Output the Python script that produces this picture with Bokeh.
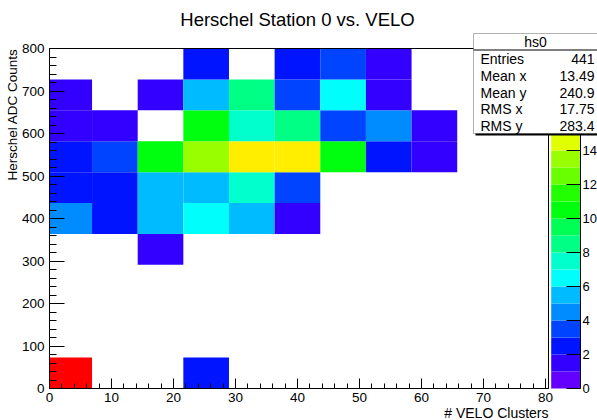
import colorsys
import math

from bokeh.plotting import figure
from bokeh.models import (Range1d, ColumnDataSource, LinearColorMapper, LinearAxis,
                          SingleIntervalTicker, FixedTicker, Label, BoxAnnotation)
from bokeh.embed import file_html
from bokeh.resources import INLINE

TITLE = "Herschel Station 0 vs. VELO"
X_TITLE = "# VELO Clusters"
Y_TITLE = "Herschel ADC Counts"
HIST_NAME = "hs0"

# histogram binning
NX, X_LO, X_HI = 11, -0.5, 80.5
NY, Y_LO, Y_HI = 11, 0.0, 800.0
Z_MAX = 20
N_CONTOURS = 20

# bin contents: one row per y bin (lowest first), one entry per x bin
counts = [
    [252, 0, 0, 2, 0, 0, 0, 0, 0, 0, 0],
    [0, 0, 0, 0, 0, 0, 0, 0, 0, 0, 0],
    [0, 0, 0, 0, 0, 0, 0, 0, 0, 0, 0],
    [0, 0, 0, 0, 0, 0, 0, 0, 0, 0, 0],
    [0, 0, 1, 0, 0, 0, 0, 0, 0, 0, 0],
    [4, 2, 5, 6, 5, 1, 0, 0, 0, 0, 0],
    [2, 2, 5, 5, 7, 3, 0, 0, 0, 0, 0],
    [2, 3, 10, 13, 15, 15, 10, 2, 1, 0, 0],
    [1, 1, 0, 10, 7, 8, 3, 4, 1, 0, 0],
    [1, 0, 1, 5, 8, 3, 6, 1, 0, 0, 0],
    [0, 0, 0, 2, 0, 2, 3, 1, 0, 0, 0],
]

# palette-axis labels left uncovered by the statistics box
z_ticks = [0, 2, 4, 6, 8, 10, 12, 14]

stat_names = ["Entries", "Mean x", "Mean y", "RMS x", "RMS y"]
stat_values = [str(sum(sum(r) for r in counts)), "13.49", "240.9", "17.75", "283.4"]

FONT = "Liberation Sans"

# canvas and pad geometry (pixels)
W, H = 597, 420
PAD_L, PAD_R, PAD_T, PAD_B = 49, 548, 48, 388
X_VIEW = (0.0, 80.5)
Y_VIEW = (0.0, 800.0)
CB_L, CB_R = 550.7, 580.0


def span_range(lo, hi, p_lo, p_hi, total, flip=False):
    """Range covering the whole canvas so that lo..hi lands on pixels p_lo..p_hi."""
    per_px = (hi - lo) / (p_hi - p_lo)
    if flip:  # vertical: pixel grows downward
        return Range1d(lo - (total - p_hi) * per_px, hi + p_lo * per_px)
    return Range1d(lo - p_lo * per_px, hi + (total - p_hi) * per_px)


def pretty_palette(ncontours=N_CONTOURS, ncolors=50):
    """Rainbow palette (violet -> red), sampled once per contour level."""
    base = []
    for i in range(ncolors):
        hue = 280.0 - (i + 1) * (280.0 / ncolors)
        r, g, b = colorsys.hls_to_rgb(hue / 360.0, 0.5, 1.0)
        base.append("#%02x%02x%02x" % (round(r * 255), round(g * 255), round(b * 255)))
    return [base[int((k + 0.99) * ncolors / ncontours)] for k in range(ncontours)]


palette = pretty_palette()
mapper = LinearColorMapper(palette=palette, low=0, high=Z_MAX, high_color=palette[-1])

dx = (X_HI - X_LO) / NX
dy = (Y_HI - Y_LO) / NY
cells = dict(left=[], right=[], bottom=[], top=[], n=[])
for j, row in enumerate(counts):
    for i, n in enumerate(row):
        if n > 0:
            cells["left"].append(max(X_LO + i * dx, X_VIEW[0]))
            cells["right"].append(X_LO + (i + 1) * dx)
            cells["bottom"].append(Y_LO + j * dy)
            cells["top"].append(Y_LO + (j + 1) * dy)
            cells["n"].append(n)

p = figure(width=W, height=H, output_backend="svg", toolbar_location=None, title=None,
           x_range=span_range(*X_VIEW, PAD_L, PAD_R, W),
           y_range=span_range(*Y_VIEW, PAD_T, PAD_B, H, flip=True),
           x_axis_type=None, y_axis_type=None,
           min_border=0, min_border_left=0, min_border_right=0,
           min_border_top=0, min_border_bottom=0)
p.xgrid.visible = False
p.ygrid.visible = False
p.outline_line_color = None
p.background_fill_color = "white"
p.border_fill_color = "white"

# pixel-space range for the pad decorations, and the palette-axis range
p.extra_x_ranges = {"px": Range1d(0, W)}
p.extra_y_ranges = {"px": Range1d(H, 0),
                    "z": span_range(0, Z_MAX, PAD_T, PAD_B, H, flip=True)}
px = dict(x_range_name="px", y_range_name="px")

# 2D histogram cells
p.quad(left="left", right="right", bottom="bottom", top="top",
       source=ColumnDataSource(cells),
       fill_color={"field": "n", "transform": mapper}, line_color=None)

# frame box
p.quad(left=X_VIEW[0], right=X_VIEW[1], bottom=Y_VIEW[0], top=Y_VIEW[1],
       fill_color=None, line_color="black", line_width=1)

# palette scale
levels = [Z_MAX * k / N_CONTOURS for k in range(N_CONTOURS + 1)]
p.quad(left=CB_L, right=CB_R, bottom=levels[:-1], top=levels[1:],
       fill_color=palette, line_color=None, x_range_name="px", y_range_name="z")


def style_axis(ax):
    ax.axis_line_color = "black"
    ax.major_tick_line_color = "black"
    ax.minor_tick_line_color = "black"
    ax.major_tick_out = 0
    ax.minor_tick_out = 0
    ax.major_label_text_font = FONT
    ax.major_label_text_font_size = "13.5px"
    ax.major_label_text_color = "black"


xa = LinearAxis(fixed_location=Y_VIEW[0], bounds=X_VIEW,
                ticker=SingleIntervalTicker(interval=10, num_minor_ticks=5))
style_axis(xa)
xa.major_tick_in = 10
xa.minor_tick_in = 5
xa.major_label_standoff = 4
p.add_layout(xa, "below")

ya = LinearAxis(fixed_location=X_VIEW[0], bounds=Y_VIEW,
                ticker=SingleIntervalTicker(interval=100, num_minor_ticks=5))
style_axis(ya)
ya.major_tick_in = 15
ya.minor_tick_in = 7
ya.major_label_standoff = 5
p.add_layout(ya, "left")

za = LinearAxis(x_range_name="px", y_range_name="z", fixed_location=CB_R,
                bounds=(0, Z_MAX), ticker=FixedTicker(ticks=z_ticks))
style_axis(za)
za.major_tick_in = 14
za.minor_tick_in = 0
za.minor_tick_line_color = None
za.major_label_standoff = 2
za.major_label_text_font_size = "13px"
p.add_layout(za, "right")

# titles
p.add_layout(Label(x=297, y=19, text=TITLE, text_align="center", text_baseline="middle",
                   text_font=FONT, text_font_size="18.5px", text_color="black", **px))
p.add_layout(Label(x=PAD_R, y=412, text=X_TITLE, text_align="right", text_baseline="middle",
                   text_font=FONT, text_font_size="14px", text_color="black", **px))
p.add_layout(Label(x=12, y=PAD_T, text=Y_TITLE, angle=math.pi / 2, text_align="right",
                   text_baseline="middle", text_font=FONT, text_font_size="13.5px",
                   text_color="black", **px))

# statistics box with drop shadow
p.add_layout(BoxAnnotation(left=475, right=602, top=35, bottom=135, fill_color="black",
                           fill_alpha=1, line_color=None, **px))
p.add_layout(BoxAnnotation(left=473, right=600, top=33, bottom=133, fill_color="white",
                           fill_alpha=1, line_color="black", line_width=1, **px))
p.add_layout(BoxAnnotation(left=473, right=600, top=49, bottom=50, fill_color="black",
                           fill_alpha=1, line_color=None, **px))
p.add_layout(Label(x=535, y=41, text=HIST_NAME, text_align="center", text_baseline="middle",
                   text_font=FONT, text_font_size="14px", text_color="black", **px))
for k, (name, val) in enumerate(zip(stat_names, stat_values)):
    yy = 58.5 + 16.75 * k
    p.add_layout(Label(x=480, y=yy, text=name, text_align="left", text_baseline="middle",
                       text_font=FONT, text_font_size="14px", text_color="black", **px))
    p.add_layout(Label(x=594, y=yy, text=val, text_align="right", text_baseline="middle",
                       text_font=FONT, text_font_size="14px", text_color="black", **px))

open("out.html", "w").write(file_html(p, INLINE))
